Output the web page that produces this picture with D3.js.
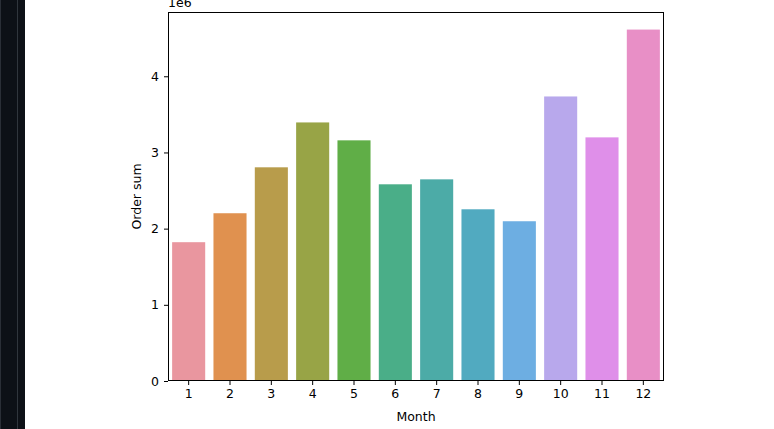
<!DOCTYPE html>
<html>
<head>
<meta charset="utf-8">
<script src="https://cdn.jsdelivr.net/npm/d3@7"></script>
<style>
  html, body { margin: 0; padding: 0; background: #ffffff; }
  svg { display: block; }
  text { font-family: "DejaVu Sans", sans-serif; fill: #000; }
</style>
</head>
<body>
<svg id="chart" width="774" height="429"></svg>
<script>
const months = ["1","2","3","4","5","6","7","8","9","10","11","12"];
const orderSum = [1.822e6, 2.202e6, 2.805e6, 3.394e6, 3.159e6, 2.582e6, 2.647e6, 2.254e6, 2.097e6, 3.735e6, 3.198e6, 4.613e6];
const barColors = ["#e9969f","#e0914f","#b89c4b","#98a446","#60ae47","#4aae88","#4caba7","#51aac0","#6daee2","#b8a8ec","#df8fe9","#e88fc6"];
const yTicks = [0, 1e6, 2e6, 3e6, 4e6];

const svg = d3.select("#chart");
const W = 774, H = 429;
const m = { left: 168, right: 664, top: 12, bottom: 381 };
const FS = 12.5;

// dark strip on the left
svg.append("rect").attr("x", 0).attr("y", 0).attr("width", 25).attr("height", H).attr("fill", "#0d1117");
svg.append("rect").attr("x", 0).attr("y", 0).attr("width", 1).attr("height", H).attr("fill", "#2a2f37");
svg.append("rect").attr("x", 17).attr("y", 0).attr("width", 1).attr("height", H).attr("fill", "#30363d");

const x = d3.scaleBand().domain(months).range([m.left, m.right]).paddingInner(0.2).paddingOuter(0.1);
const y = d3.scaleLinear().domain([0, d3.max(orderSum) * 1.05]).range([m.bottom, m.top]);

svg.append("g").selectAll("rect").data(months).join("rect")
  .attr("x", d => x(d))
  .attr("width", x.bandwidth())
  .attr("y", (d, i) => y(orderSum[i]))
  .attr("height", (d, i) => y(0) - y(orderSum[i]))
  .attr("fill", (d, i) => barColors[i]);

// axes
const xAxis = svg.append("g").attr("transform", `translate(0,${m.bottom})`)
  .call(d3.axisBottom(x).tickSizeOuter(0).tickSize(4).tickPadding(4));
const yAxis = svg.append("g").attr("transform", `translate(${m.left},0)`)
  .call(d3.axisLeft(y).tickValues(yTicks).tickFormat(d => d3.format("d")(d / 1e6)).tickSizeOuter(0).tickSize(4).tickPadding(5));

[xAxis, yAxis].forEach(g => {
  g.select(".domain").remove();
  g.selectAll(".tick line").attr("stroke", "#000").attr("stroke-width", 1);
  g.selectAll(".tick text").attr("font-size", FS).attr("font-family", "DejaVu Sans").attr("fill", "#000");
});

// frame
svg.append("rect").attr("x", m.left + 0.5).attr("y", m.top + 0.5)
  .attr("width", m.right - m.left - 1).attr("height", m.bottom - m.top - 1)
  .attr("fill", "none").attr("stroke", "#000").attr("stroke-width", 1);

// offset text
svg.append("text").attr("x", m.left).attr("y", 7).attr("font-size", FS).text("1e6");

// axis labels
svg.append("text").attr("x", (m.left + m.right) / 2).attr("y", 421)
  .attr("text-anchor", "middle").attr("font-size", FS).text("Month");
svg.append("text").attr("transform", `translate(141,${(m.top + m.bottom) / 2}) rotate(-90)`)
  .attr("text-anchor", "middle").attr("font-size", FS).text("Order sum");
</script>
</body>
</html>
